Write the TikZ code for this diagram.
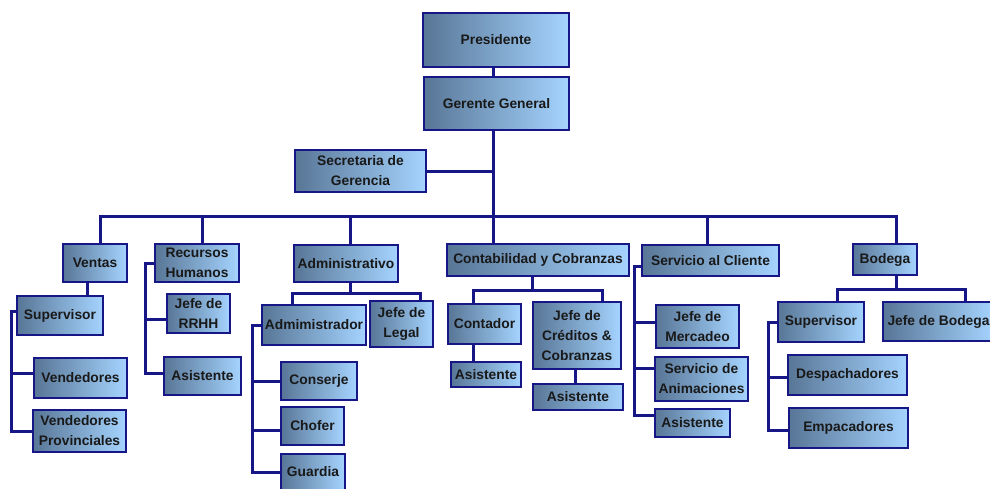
\documentclass[tikz,border=0pt]{standalone}
\usepackage{fontspec}
\setmainfont{Liberation Sans}
\usetikzlibrary{positioning,calc}
\definecolor{marino}{RGB}{22,22,135}
\definecolor{azuloscuro}{RGB}{88,118,150}
\definecolor{azulclaro}{RGB}{165,212,255}

\begin{document}
\begin{tikzpicture}[
    x=1pt, y=-1pt,
    puesto/.style={draw=marino, line width=2.6pt, left color=azuloscuro, right color=azulclaro,
      inner sep=0pt, align=center, text=black!90, font=\fontsize{13.8}{20}\selectfont\bfseries},
    enlace/.style={draw=marino, line width=3pt}
    ]
    \clip (0,0) rectangle (990,488);

    \node[puesto, minimum width=146, minimum height=54] (presidente) at (496,40) {Presidente};
    \node[puesto, minimum width=145, minimum height=53] (gerente) at (496.5,103.5) {Gerente General};
    \node[puesto, minimum width=131, minimum height=42] (secretaria) at (360.5,171) {Secretaria de\\Gerencia};

    \node[puesto, minimum width=64, minimum height=38] (ventas) at (95,263) {Ventas};
    \node[puesto, minimum width=84, minimum height=38] (rrhh) at (197,263) {Recursos\\Humanos};
    \node[puesto, minimum width=104, minimum height=37] (administrativo) at (346,263.5) {Administrativo};
    \node[puesto, minimum width=182, minimum height=32] (contabilidad) at (538,260) {Contabilidad y Cobranzas};
    \node[puesto, minimum width=137, minimum height=31] (servicio) at (710.5,260.5) {Servicio al Cliente};
    \node[puesto, minimum width=64, minimum height=31] (bodega) at (885,259.5) {Bodega};

    \node[puesto, minimum width=86, minimum height=39] (supventas) at (60,315.5) {Supervisor};
    \node[puesto, minimum width=93, minimum height=40] (vendedores) at (80.5,378) {Vendedores};
    \node[puesto, minimum width=93, minimum height=42] (provinciales) at (79.5,431) {Vendedores\\Provinciales};

    \node[puesto, minimum width=63, minimum height=39] (jeferrhh) at (198.5,313.5) {Jefe de\\RRHH};
    \node[puesto, minimum width=77, minimum height=38] (asistrrhh) at (202.5,376) {Asistente};

    \node[puesto, minimum width=104, minimum height=40] (administrador) at (314,325) {Admimistrador};
    \node[puesto, minimum width=63, minimum height=46] (legal) at (401.5,324) {Jefe de\\Legal};
    \node[puesto, minimum width=76, minimum height=38] (conserje) at (319,381) {Conserje};
    \node[puesto, minimum width=63, minimum height=38] (chofer) at (312.5,426) {Chofer};
    \node[puesto, minimum width=64, minimum height=36] (guardia) at (313,472) {Guardia};

    \node[puesto, minimum width=73, minimum height=40] (contador) at (484.5,324) {Contador};
    \node[puesto, minimum width=88, minimum height=67] (creditos) at (577,335.5) {Jefe de\\Créditos \&\\Cobranzas};
    \node[puesto, minimum width=70, minimum height=25] (asistcontador) at (486,374.5) {Asistente};
    \node[puesto, minimum width=90, minimum height=26] (asistcreditos) at (578,397) {Asistente};

    \node[puesto, minimum width=83, minimum height=43] (mercadeo) at (697.5,326.5) {Jefe de\\Mercadeo};
    \node[puesto, minimum width=93, minimum height=44] (animaciones) at (701.5,379) {Servicio de\\Animaciones};
    \node[puesto, minimum width=75, minimum height=28] (asistservicio) at (692.5,423) {Asistente};

    \node[puesto, minimum width=86, minimum height=40] (supbodega) at (821,322) {Supervisor};
    \node[puesto, minimum width=111, minimum height=39] (jefebodega) at (938.5,321.5) {Jefe de Bodega};
    \node[puesto, minimum width=119, minimum height=40] (despachadores) at (847.5,375) {Despachadores};
    \node[puesto, minimum width=119, minimum height=40] (empacadores) at (848.5,428) {Empacadores};

    \coordinate (tronco) at (493,216);
    \coordinate (tsupventas) at ([yshift=4pt]supventas.west);
    \coordinate (tvendedores) at ([yshift=5pt]vendedores.west);
    \coordinate (tjeferrhh) at ([yshift=-6pt]jeferrhh.west);
    \coordinate (tasistrrhh) at ([yshift=3pt]asistrrhh.west);
    \coordinate (tchofer) at ([yshift=-4pt]chofer.west);
    \coordinate (tservicio) at ([yshift=-6pt]servicio.west);
    \coordinate (tmercadeo) at ([yshift=4pt]mercadeo.west);
    \coordinate (tanimaciones) at ([yshift=11pt]animaciones.west);
    \coordinate (tasistservicio) at ([yshift=8pt]asistservicio.west);
    \coordinate (tdespachadores) at ([yshift=-2pt]despachadores.west);
    \coordinate (tempacadores) at ([yshift=-2pt]empacadores.west);

    \draw[enlace] (493,0 |- presidente.south) -- (493,0 |- gerente.north);
    \draw[enlace] (493,0 |- gerente.south) -- (tronco);
    \draw[enlace] (secretaria.east) -- (secretaria.east -| tronco);
    \draw[enlace] (100,0 |- ventas.north) -- (100,216) -- (896,216) -- (896,0 |- bodega.north);
    \draw[enlace] (202,216) -- (202,0 |- rrhh.north);
    \draw[enlace] (350,216) -- (350,0 |- administrativo.north);
    \draw[enlace] (tronco) -- (493,0 |- contabilidad.north);
    \draw[enlace] (707,216) -- (707,0 |- servicio.north);

    \draw[enlace] (87,0 |- ventas.south) -- (87,0 |- supventas.north);
    \draw[enlace] (tsupventas) -| (11,0 |- provinciales.west) -- (provinciales.west);
    \draw[enlace] (11,0 |- tvendedores) -- (tvendedores);

    \draw[enlace] (rrhh.west) -| (145,0 |- tasistrrhh) -- (tasistrrhh);
    \draw[enlace] (145,0 |- tjeferrhh) -- (tjeferrhh);

    \draw[enlace] (350,0 |- administrativo.south) -- (350,293);
    \draw[enlace] (292,0 |- administrador.north) -- (292,293) -- (420,293) -- (420,0 |- legal.north);
    \draw[enlace] (administrador.west) -| (252,0 |- guardia.west) -- (guardia.west);
    \draw[enlace] (252,0 |- conserje.west) -- (conserje.west);
    \draw[enlace] (252,0 |- tchofer) -- (tchofer);

    \draw[enlace] (532,0 |- contabilidad.south) -- (532,290);
    \draw[enlace] (473,0 |- contador.north) -- (473,290) -- (602,290) -- (602,0 |- creditos.north);
    \draw[enlace] (473,0 |- contador.south) -- (473,0 |- asistcontador.north);
    \draw[enlace] (575,0 |- creditos.south) -- (575,0 |- asistcreditos.north);

    \draw[enlace] (tservicio) -| (634,0 |- tasistservicio) -- (tasistservicio);
    \draw[enlace] (634,0 |- tmercadeo) -- (tmercadeo);
    \draw[enlace] (634,0 |- tanimaciones) -- (tanimaciones);

    \draw[enlace] (896,0 |- bodega.south) -- (896,289);
    \draw[enlace] (837,0 |- supbodega.north) -- (837,289) -- (965,289) -- (965,0 |- jefebodega.north);
    \draw[enlace] (supbodega.west) -| (768,0 |- tempacadores) -- (tempacadores);
    \draw[enlace] (768,0 |- tdespachadores) -- (tdespachadores);
\end{tikzpicture}
\end{document}
